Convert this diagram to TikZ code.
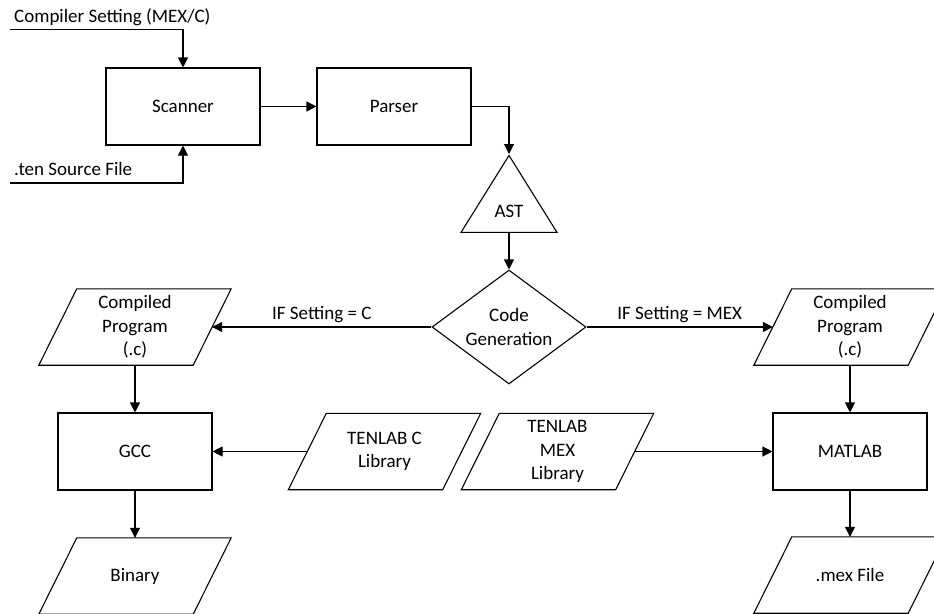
\documentclass[tikz,border=0pt]{standalone}
\usepackage{fontspec}
\setmainfont{Carlito}
\usetikzlibrary{shapes.geometric,arrows.meta}
\begin{document}
\begin{tikzpicture}[x=1pt,y=-1pt,
  every node/.style={font=\fontsize{19}{23.5}\selectfont},
  box/.style={draw, line width=1.1pt, minimum width=154pt, minimum height=77pt, inner sep=0pt},
  para/.style={minimum width=154pt, minimum height=76pt, inner sep=0pt, align=center},
  paraline/.style={line width=1.1pt, line join=miter},
  arr/.style={line width=1.1pt, -{Triangle[length=10pt,width=10pt]}}]
\clip (0,0) rectangle (934,613);
\node[box] (scan) at (183,106.5) {Scanner};
\node[box] (pars) at (394,106.5) {Parser};
\node[draw, line width=1.1pt, isosceles triangle, shape border rotate=90, isosceles triangle stretches, minimum width=96pt, minimum height=77pt, inner sep=0pt, anchor=apex] (ast) at (509,154) {AST};
\node[draw, line width=1.1pt, diamond, aspect=1.35, minimum width=154pt, minimum height=114pt, inner sep=0pt, align=center] (dia) at (509,327) {Code\\Generation};
\node[para] (cp1) at (135,327) {Compiled\\Program\\(.c)};
\node[para] (cp2) at (850,327) {Compiled\\Program\\(.c)};
\node[box] (gcc) at (135,451.5) {GCC};
\node[box] (mat) at (850,451.5) {MATLAB};
\node[para] (tlc) at (384.5,451.5) {TENLAB C\\Library};
\node[para] (tlm) at (557.5,451.5) {TENLAB\\MEX\\Library};
\node[para] (bin) at (135,576) {Binary};
\node[para] (mex) at (850,575) {.mex File};
\foreach \n in {cp1,cp2,tlc,tlm,bin,mex}
  \draw[paraline] ([xshift=-19pt]\n.south west) -- ([xshift=-19pt]\n.south east) -- ([xshift=19pt]\n.north east) -- ([xshift=19pt]\n.north west) -- cycle;
\node[anchor=base west, inner sep=0pt] (cst) at (14,22) {Compiler Setting (MEX/C)};
\node[anchor=base west, inner sep=0pt] (tst) at (14,175) {.ten Source File};
\coordinate (csin) at (10,29.5);
\coordinate (tsin) at (10,183);
\draw[arr] (csin) -| (scan.north);
\draw[arr] (tsin) -| (scan.south);
\draw[arr] (scan) -- (pars);
\draw[arr] (pars.east) -| (ast.apex);
\draw[arr] (ast.lower side) -- (dia.north);
\draw[arr] (dia.west) -- (cp1) node[midway, anchor=base, yshift=8pt] (lblc) {IF Setting = C};
\draw[arr] (dia.east) -- (cp2) node[midway, anchor=base, yshift=8pt] (lblm) {IF Setting = MEX};
\draw[arr] (cp1) -- (gcc);
\draw[arr] (cp2) -- (mat);
\draw[arr] (tlc) -- (gcc);
\draw[arr] (tlm) -- (mat);
\draw[arr] (gcc) -- (bin);
\draw[arr] (mat) -- (mex);
\end{tikzpicture}
\end{document}
